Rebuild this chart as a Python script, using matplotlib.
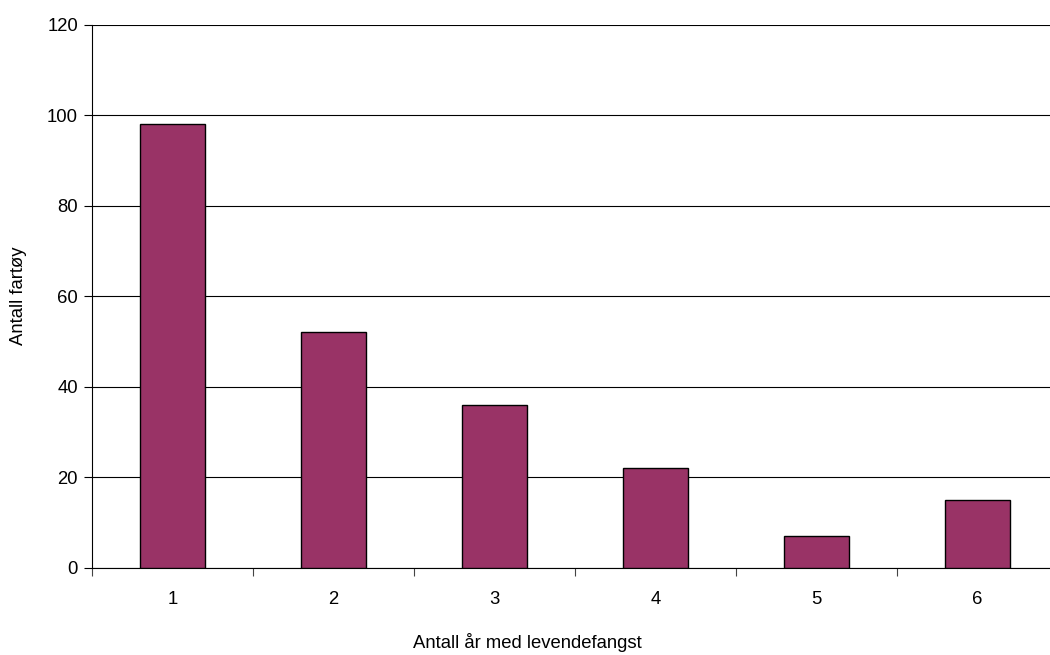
import numpy as np
import matplotlib.pyplot as plt

# data
categories = ['1', '2', '3', '4', '5', '6']
values = [98, 52, 36, 22, 7, 15]
y_ticks = [0, 20, 40, 60, 80, 100, 120]

plt.rcParams['font.family'] = ['Liberation Sans', 'DejaVu Sans']
fs = 13.3

fig = plt.figure(figsize=(10.5, 6.55), dpi=100)
# axes run past the right edge of the picture, like the original
ax = fig.add_axes([92 / 1050, 1 - 567.5 / 655, 966 / 1050, (567.5 - 24.5) / 655])

x = np.arange(len(categories))
ax.bar(x, values, width=0.4, color='#993366', edgecolor='black', linewidth=1, zorder=3)

ax.set_xlim(-0.5, len(categories) - 0.5)
ax.set_ylim(0, 120)
ax.set_yticks(y_ticks)
ax.yaxis.grid(True, color='black', linewidth=0.8, zorder=0)

# category labels in the middle, tick marks between the categories
ax.set_xticks(x)
ax.set_xticklabels(categories)
ax.set_xticks(np.arange(len(categories) + 1) - 0.5, minor=True)
ax.tick_params(axis='x', which='major', length=0, pad=17, labelsize=fs)
ax.tick_params(axis='x', which='minor', length=6, width=0.8, color='#444444')
ax.tick_params(axis='y', length=6, width=0.8, pad=4, labelsize=fs)

for side in ['top', 'right']:
    ax.spines[side].set_visible(False)
ax.spines['left'].set_linewidth(0.8)
ax.spines['bottom'].set_linewidth(0.8)

ax.set_xlabel('Antall år med levendefangst', fontsize=fs)
ax.set_ylabel('Antall fartøy', fontsize=fs)
ax.xaxis.set_label_coords(435 / 966, -(633 - 567.5) / 543)
ax.yaxis.set_label_coords(-(92 - 27) / 966, 0.5)

fig.savefig('out.png', dpi=100)
